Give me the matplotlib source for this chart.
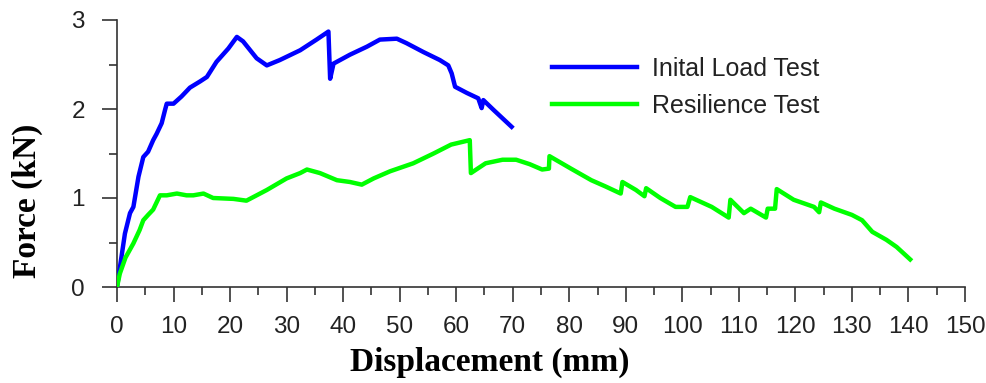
import matplotlib
matplotlib.use('Agg')
import matplotlib.pyplot as plt
from matplotlib.ticker import MultipleLocator

# Inital load test (blue)
load_x = [0, 1.4, 2.3, 2.9, 3.8, 4.65, 5.5, 6.4, 7.0, 7.9, 8.5, 8.8, 10.0, 11.4, 12.9,
          14.7, 15.9, 17.6, 19.7, 21.2, 22.3, 24.7, 26.5, 28.8, 32.4, 35.3, 37.4, 37.7,
          38.3, 41.2, 44.2, 46.5, 49.5, 51.2, 54.2, 57.1, 58.6, 59.2, 59.8, 61.9, 63.9,
          64.5, 64.8, 66.6, 69.8]
load_y = [0, 0.60, 0.83, 0.90, 1.24, 1.46, 1.52, 1.65, 1.72, 1.84, 1.99, 2.06, 2.06, 2.14, 2.24,
          2.31, 2.36, 2.53, 2.68, 2.81, 2.76, 2.57, 2.49, 2.55, 2.66, 2.78, 2.87, 2.34,
          2.51, 2.61, 2.70, 2.78, 2.79, 2.74, 2.64, 2.55, 2.49, 2.40, 2.25, 2.18, 2.12,
          2.01, 2.10, 1.99, 1.80]

# Resilience test (green)
res_x = [0, 0.5, 1.5, 2.9, 4.0, 4.65, 5.5, 6.4, 7.0, 7.6, 8.8, 10.6, 12.3, 13.5, 15.3, 17.0,
         20.6, 22.9, 26.5, 30.0, 32.4, 33.6, 35.9, 38.9, 41.2, 43.3, 45.4, 48.3, 52.4, 56.0,
         59.1, 62.4, 62.6, 65.2, 68.2, 70.6, 73.0, 75.2, 76.4, 76.5, 80.3, 83.9, 86.4, 89.1,
         89.4, 91.8, 93.3, 93.6, 96.1, 98.8, 100.9, 101.4, 105.2, 108.2, 108.5, 110.9, 112.1,
         114.8, 115.1, 116.4, 116.7, 119.7, 123.3, 124.2, 124.5, 126.9, 130.0, 131.8, 133.6,
         136.1, 137.9, 140.3]
res_y = [0, 0.15, 0.33, 0.49, 0.64, 0.75, 0.81, 0.87, 0.95, 1.03, 1.03, 1.05, 1.03, 1.03, 1.05, 1.00,
         0.99, 0.97, 1.09, 1.22, 1.28, 1.32, 1.28, 1.20, 1.18, 1.15, 1.22, 1.30, 1.39, 1.50,
         1.60, 1.65, 1.28, 1.39, 1.43, 1.43, 1.38, 1.32, 1.33, 1.47, 1.33, 1.20, 1.13, 1.05,
         1.18, 1.09, 1.02, 1.11, 1.00, 0.90, 0.90, 1.01, 0.90, 0.78, 0.98, 0.83, 0.88,
         0.78, 0.88, 0.88, 1.10, 0.98, 0.90, 0.84, 0.95, 0.88, 0.81, 0.75, 0.62,
         0.53, 0.45, 0.31]

axis_color = '#333333'
text_color = '#222222'
plt.rcParams['font.family'] = ['Liberation Sans', 'DejaVu Sans']

fig = plt.figure(figsize=(9.87, 3.83), dpi=100)
ax = fig.add_axes([117 / 987, 1 - 287 / 383, 848 / 987, 267 / 383])

ax.plot(load_x, load_y, color='#0000FF', lw=3.2, label='Inital Load Test')
ax.plot(res_x, res_y, color='#00FF00', lw=3.2, label='Resilience Test')

ax.set_xlim(0, 150)
ax.set_ylim(0, 3)
ax.xaxis.set_major_locator(MultipleLocator(10))
ax.xaxis.set_minor_locator(MultipleLocator(5))
ax.yaxis.set_major_locator(MultipleLocator(1))
ax.yaxis.set_minor_locator(MultipleLocator(0.5))

for side in ['top', 'right']:
    ax.spines[side].set_visible(False)
for side in ['left', 'bottom']:
    ax.spines[side].set_color(axis_color)
    ax.spines[side].set_linewidth(1.2)
ax.spines['left'].set_zorder(0)
ax.spines['bottom'].set_zorder(0)

ax.tick_params(axis='x', which='major', length=11, width=1.2, color=axis_color,
               labelsize=17.5, labelcolor=text_color, pad=10)
ax.tick_params(axis='x', which='minor', length=5.5, width=1.2, color=axis_color)
ax.tick_params(axis='y', which='major', length=11, width=1.2, color=axis_color,
               labelsize=17.5, labelcolor=text_color, pad=12)
ax.tick_params(axis='y', which='minor', length=5.5, width=1.2, color=axis_color)

label_font = {'family': 'Liberation Serif', 'weight': 'bold', 'size': 24, 'color': 'black'}
ax.set_xlabel('Displacement (mm)', fontdict=label_font)
ax.set_ylabel('Force (kN)', fontdict=label_font)
ax.xaxis.label.set_va('center')
ax.yaxis.label.set_va('center')
ax.xaxis.set_label_coords((490 - 117) / 848, -(362 - 287) / 267)
ax.yaxis.set_label_coords(-(117 - 27) / 848, (287 - 201) / 267)

ax.legend(loc='upper left', bbox_to_anchor=((552 - 117) / 848, (287 - 57) / 267),
          frameon=False, fontsize=18, handlelength=3.4, handletextpad=0.6,
          labelspacing=0.52, borderpad=0, borderaxespad=0, labelcolor=text_color)

fig.savefig('out.png', dpi=100)
